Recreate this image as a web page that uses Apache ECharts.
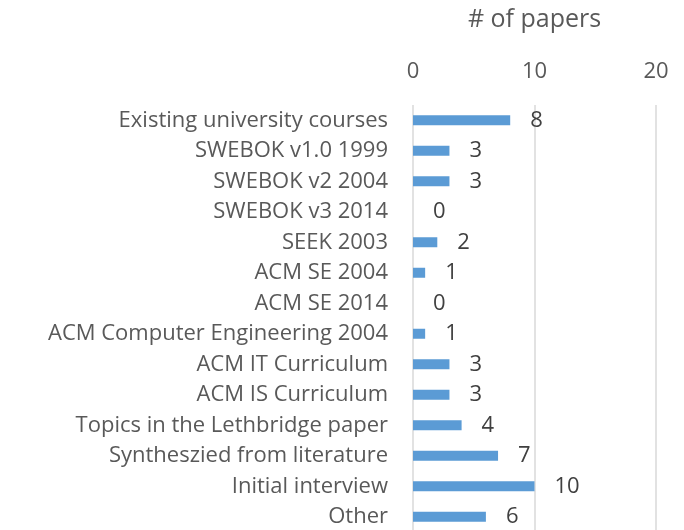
<!DOCTYPE html>
<html>
<head>
<meta charset="utf-8">
<script src="https://cdn.jsdelivr.net/npm/echarts@6/dist/echarts.min.js"></script>
<style>
	html, body { margin: 0; padding: 0; background: #fff; }
	#chart { width: 684px; height: 530px; }
</style>
</head>
<body>
<div id="chart"></div>
<script>
// sources, top to bottom
var categories = [
	'Existing university courses',
	'SWEBOK v1.0 1999',
	'SWEBOK v2 2004',
	'SWEBOK v3 2014',
	'SEEK 2003',
	'ACM SE 2004',
	'ACM SE 2014',
	'ACM Computer Engineering 2004',
	'ACM IT Curriculum',
	'ACM IS Curriculum',
	'Topics in the Lethbridge paper',
	'Syntheszied from literature',
	'Initial interview',
	'Other'
];
var papers = [8, 3, 3, 0, 2, 1, 0, 1, 3, 3, 4, 7, 10, 6];
var xTicks = [0, 10, 20];

var chart = echarts.init(document.getElementById('chart'));
var option = {
	animation: false,
	textStyle: { fontFamily: '"Open Sans", sans-serif' },
	grid: {
		left: 413,
		right: 28,
		top: 105,
		height: 427,
		containLabel: false,
		outerBoundsMode: 'none'
	},
	xAxis: {
		type: 'value',
		position: 'top',
		min: xTicks[0],
		max: xTicks[xTicks.length - 1],
		interval: 10,
		name: '# of papers',
		nameLocation: 'middle',
		nameGap: 73,
		nameTextStyle: { fontSize: 25, color: '#595959' },
		axisLine: { show: false },
		axisTick: { show: false },
		axisLabel: { fontSize: 22, color: '#595959', margin: 22 },
		splitLine: { lineStyle: { color: '#d9d9d9', width: 1.5 } }
	},
	yAxis: {
		type: 'category',
		inverse: true,
		data: categories,
		axisLine: { show: false },
		axisTick: { show: false },
		axisLabel: { fontSize: 22, color: '#595959', margin: 25 }
	},
	series: [
		{
			type: 'bar',
			data: papers,
			barWidth: 10,
			itemStyle: { color: '#5b9bd5' },
			label: {
				show: true,
				position: 'right',
				distance: 20,
				fontSize: 22,
				color: '#404040'
			}
		}
	]
};
chart.setOption(option);
</script>
</body>
</html>
